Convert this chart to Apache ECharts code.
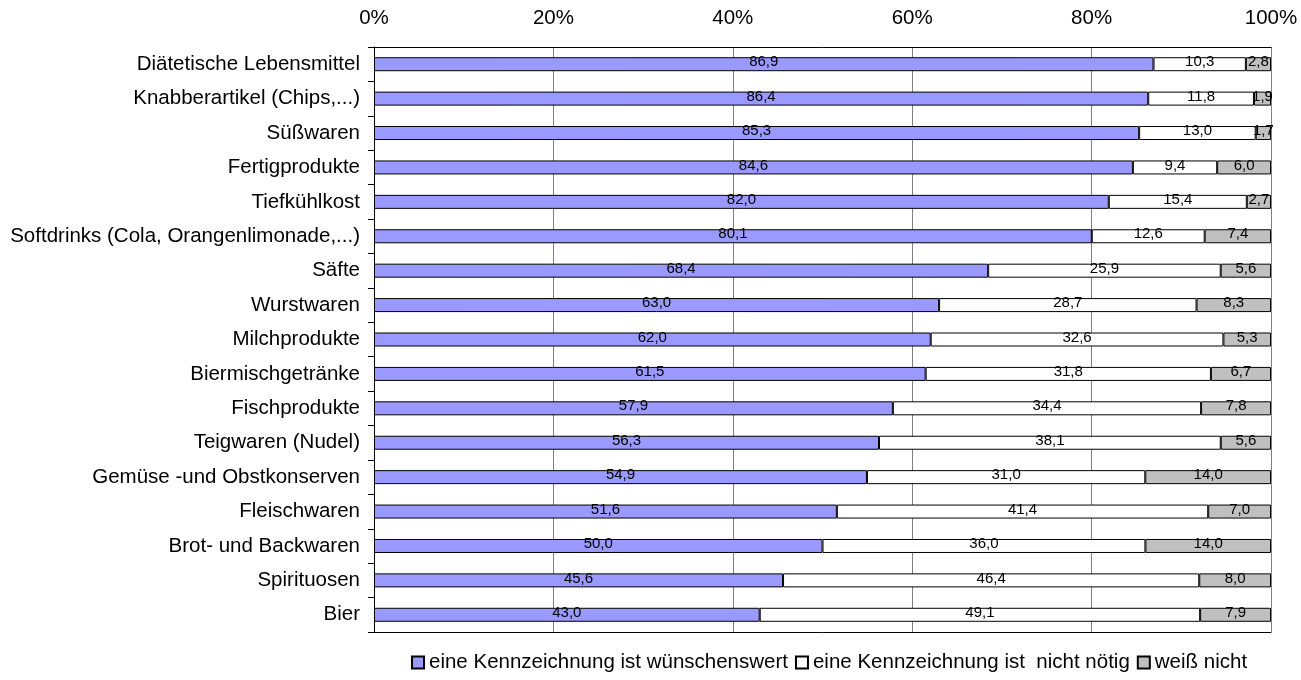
<!DOCTYPE html>
<html><head><meta charset="utf-8">
<script src="https://cdn.jsdelivr.net/npm/echarts@6/dist/echarts.min.js"></script>
<style>html,body{margin:0;padding:0;background:#fff}#c{width:1301px;height:680px}</style>
</head><body><div id="c"></div>
<script>
const categories = ["Diätetische Lebensmittel","Knabberartikel (Chips,...)","Süßwaren","Fertigprodukte","Tiefkühlkost","Softdrinks (Cola, Orangenlimonade,...)","Säfte","Wurstwaren","Milchprodukte","Biermischgetränke","Fischprodukte","Teigwaren (Nudel)","Gemüse -und Obstkonserven","Fleischwaren","Brot- und Backwaren","Spirituosen","Bier"];
const wuenschenswert = [86.9,86.4,85.3,84.6,82.0,80.1,68.4,63.0,62.0,61.5,57.9,56.3,54.9,51.6,50.0,45.6,43.0];
const nichtNoetig = [10.3,11.8,13.0,9.4,15.4,12.6,25.9,28.7,32.6,31.8,34.4,38.1,31.0,41.4,36.0,46.4,49.1];
const weissNicht = [2.8,1.9,1.7,6.0,2.7,7.4,5.6,8.3,5.3,6.7,7.8,5.6,14.0,7.0,14.0,8.0,7.9];
const seriesNames = ["eine Kennzeichnung ist wünschenswert","eine Kennzeichnung ist  nicht nötig","weiß nicht"];
const tickLabels = ["0%","20%","40%","60%","80%","100%"];
const colors = ["#9999FF","#FFFFFF","#C0C0C0"];

const raw = [wuenschenswert, nichtNoetig, weissNicht];
const totals = categories.map((_, i) => raw.reduce((s, a) => s + a[i], 0));
const font = "'Liberation Sans', Arial, sans-serif";

const series = raw.map((arr, k) => ({
  name: seriesNames[k],
  type: 'bar',
  stack: 'total',
  barWidth: 14,
  data: arr.map((v, i) => ({ value: v / totals[i] * 100, raw: v })),
  itemStyle: { color: colors[k], borderColor: '#000', borderWidth: 1 },
  label: {
    show: true, position: 'inside', color: '#000', fontSize: 15, fontFamily: font,
    offset: [0, -2],
    formatter: p => p.data.raw.toFixed(1).replace('.', ',')
  },
  emphasis: { disabled: true },
  animation: false
}));

const chart = echarts.init(document.getElementById('c'), null, { renderer: 'canvas' });
chart.setOption({
  animation: false,
  textStyle: { fontFamily: font },
  grid: { left: 374, right: 30, top: 47, bottom: 48, containLabel: false },
  legend: {
    bottom: 2, left: 406, itemWidth: 12, itemHeight: 12, itemGap: 7,
    icon: 'rect',
    textStyle: { fontSize: 20.5, color: '#000', fontFamily: font },
    data: seriesNames
  },
  xAxis: [{
    type: 'value', position: 'top', min: 0, max: 100, interval: 20,
    axisLine: { show: true, lineStyle: { color: '#000' } },
    axisTick: { show: false },
    axisLabel: { fontSize: 20.5, color: '#000', margin: 18, fontFamily: font,
      formatter: v => tickLabels[Math.round(v / 20)] },
    splitLine: { show: true, lineStyle: { color: '#808080', width: 1 } }
  }, {
    type: 'value', position: 'bottom', min: 0, max: 100, interval: 20,
    axisLine: { show: true, lineStyle: { color: '#000' } },
    axisTick: { show: false }, axisLabel: { show: false }, splitLine: { show: false }
  }],
  yAxis: {
    type: 'category', inverse: true, data: categories,
    axisLine: { show: true, lineStyle: { color: '#000' } },
    axisTick: { show: true, length: 6, lineStyle: { color: '#000' } },
    axisLabel: { fontSize: 20.5, color: '#000', margin: 14, fontFamily: font }
  },
  series: series
});
</script></body></html>
